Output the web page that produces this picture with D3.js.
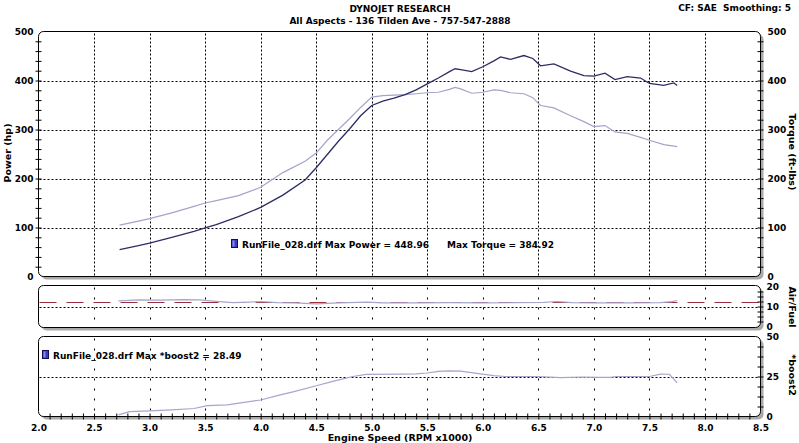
<!DOCTYPE html>
<html><head><meta charset="utf-8">
<script src="https://cdn.jsdelivr.net/npm/d3@7"></script>
<style>
html,body{margin:0;padding:0;background:#fff;}
svg{display:block;font-family:"DejaVu Sans",Verdana,sans-serif;font-weight:bold;}
</style></head>
<body><svg id="c" width="799" height="443"></svg>
<script>
// ---------- data ----------
const rpm    = [2.73,2.9,3.0,3.2,3.4,3.5,3.6,3.8,4.0,4.2,4.4,4.5,4.6,4.7,4.8,4.9,5.0,5.1,5.2,5.3,5.4,5.5,5.6,5.7,5.75,5.8,5.9,6.0,6.1,6.16,6.25,6.37,6.45,6.52,6.64,6.79,6.91,7.0,7.1,7.19,7.3,7.42,7.5,7.63,7.72,7.75];
const power  = [55,63,68,80,92,99,106,122,141,166,197,222,249,276,301,328,349,358,364,371,381,393,405,418,424,422,418,428,440,448,443,451,445,430,434,419,410,409,415,402,408,405,394,390,395,390];
const torque = [105,113,118,130,143,150,155,165,182,212,235,252,278,300,322,345,366,369,370,371,373,375,376,382,386,383,374,376,381,380,375,373,365,349,344,328,316,306,308,295,292,284,278,269,266,265];

const afRpm  = [2.72,2.9,3.1,3.3,3.45,3.6,3.75,3.9,4.0,4.15,4.3,4.5,4.7,4.96,5.1,5.4,5.7,6.0,6.3,6.55,6.67,6.8,7.0,7.3,7.6,7.7,7.75];
const afr    = [12.8,13.3,13.2,13.4,13.3,12.6,11.9,12.2,12.5,11.9,11.8,11.3,11.8,12.2,11.8,11.8,11.9,11.8,11.9,12.1,12.5,11.9,11.8,11.8,11.9,12.4,13.0];
const afTarget = 12;

const boostRpm = [2.72,2.82,3.0,3.2,3.4,3.52,3.7,3.82,4.0,4.15,4.3,4.5,4.65,4.83,4.95,5.26,5.4,5.5,5.6,5.7,5.8,5.98,6.1,6.2,6.5,6.7,6.9,7.05,7.15,7.2,7.5,7.6,7.68,7.75];
const boost    = [1.0,3.0,3.5,4.2,5.0,6.8,7.3,8.5,10.3,13,15.5,19.2,22,25,26.3,26.5,26.6,27.2,28.2,28.5,28.3,26.7,25.6,25.0,25.0,24.3,24.7,24.4,24.5,25.0,25.0,26.5,26.4,21];

const xTicks = [2.0,2.5,3.0,3.5,4.0,4.5,5.0,5.5,6.0,6.5,7.0,7.5,8.0,8.5];
const mainTicks = [0,100,200,300,400,500];
const afTicks = [0,10,20];
const boostTicks = [0,25,50];

const title = "DYNOJET RESEARCH";
const subtitle = "All Aspects - 136 Tilden Ave - 757-547-2888";
const cfText = "CF: SAE\u00a0\u00a0Smoothing: 5";
const legendMain = "RunFile_028.drf Max Power = 448.96";
const legendTorque = "Max Torque = 384.92";
const legendBoost = "RunFile_028.drf Max *boost2 = 28.49";

// ---------- scales ----------
const svg = d3.select("#c");
const x = d3.scaleLinear().domain([2,8.5]).range([38.5,760.5]);
const yMain = d3.scaleLinear().domain([0,500]).range([276.5,31.5]);
const yAF = d3.scaleLinear().domain([0,20]).range([326.5,286.5]);
const yB = d3.scaleLinear().domain([0,50]).range([416.5,336.5]);

const panels = [
  {y:yMain, top:31.5, bot:276.5, vdash:"2,2"},
  {y:yAF, top:285.5, bot:327.5, vdash:"2,8"},
  {y:yB, top:336.5, bot:416.5, vdash:"2,8"}
];
const L = x(2), R = x(8.5);

// shadows + boxes
panels.forEach(p=>{
  svg.append("rect").attr("x",L+3).attr("y",p.top+3).attr("width",R-L).attr("height",p.bot-p.top)
    .attr("rx",5).attr("fill","#a9a9a9");
  svg.append("rect").attr("x",L).attr("y",p.top).attr("width",R-L).attr("height",p.bot-p.top)
    .attr("rx",5).attr("fill","#fff");
});

// vertical grid
panels.forEach(p=>{
  svg.append("g").selectAll("line").data(xTicks.slice(1,-1)).join("line")
    .attr("x1",d=>Math.round(x(d))+0.5).attr("x2",d=>Math.round(x(d))+0.5)
    .attr("y1",p.top+2).attr("y2",p.bot-1)
    .attr("stroke","#000").attr("stroke-width",1).attr("stroke-dasharray",p.vdash);
});
// horizontal grid
function hgrid(scale, vals){
  svg.append("g").selectAll("line").data(vals).join("line")
    .attr("x1",L+1).attr("x2",R-1)
    .attr("y1",d=>Math.round(scale(d))+0.5).attr("y2",d=>Math.round(scale(d))+0.5)
    .attr("stroke","#000").attr("stroke-width",1).attr("stroke-dasharray","2,2");
}
hgrid(yMain,[100,200,300,400]);
hgrid(yAF,[10]);
hgrid(yB,[25]);

// A/F target line
svg.append("line").attr("x1",L+1).attr("x2",R-1)
  .attr("y1",yAF(afTarget)).attr("y2",yAF(afTarget))
  .attr("stroke","#9b2f42").attr("stroke-width",1.2).attr("stroke-dasharray","17,10");

// data lines
const lineMainP = d3.line().x((d,i)=>x(rpm[i])).y(d=>yMain(d));
svg.append("path").datum(torque).attr("d",lineMainP).attr("fill","none").attr("stroke","#a4a4c8").attr("stroke-width",1.2);
svg.append("path").datum(power).attr("d",lineMainP).attr("fill","none").attr("stroke","#2c2c64").attr("stroke-width",1.3);
svg.append("path").datum(afr).attr("d",d3.line().x((d,i)=>x(afRpm[i])).y(d=>yAF(d)))
  .attr("fill","none").attr("stroke","#a6a6cc").attr("stroke-width",1.2);
svg.append("path").datum(boost).attr("d",d3.line().x((d,i)=>x(boostRpm[i])).y(d=>yB(d)))
  .attr("fill","none").attr("stroke","#a6a6cc").attr("stroke-width",1.2);

// box outlines on top
panels.forEach(p=>{
  svg.append("rect").attr("x",L).attr("y",p.top).attr("width",R-L).attr("height",p.bot-p.top)
    .attr("rx",5).attr("fill","none").attr("stroke","#000").attr("stroke-width",1);
});

// cross ticks
function crossAxis(axisGen, tx, ty){
  const g = svg.append("g").attr("transform",`translate(${tx},${ty})`).call(axisGen);
  g.select(".domain").remove();
  g.selectAll("text").remove();
  return g;
}
function vTicks(scale, tx, step, lo, hi){
  const g = crossAxis(d3.axisLeft(scale).tickValues(d3.range(lo+step, hi, step)).tickSize(3), tx, 0);
  g.selectAll(".tick line").attr("x1",-3).attr("x2",3).attr("stroke","#000");
}
vTicks(yMain, L, 20, 0, 500);
vTicks(yMain, R, 20, 0, 500);
vTicks(yAF, R, 2.5, 0, 20);
vTicks(yB, R, 6.25, 0, 50);
{
  const g = crossAxis(d3.axisBottom(x).tickValues(d3.range(21,85).map(v=>v/10)).tickSize(3), 0, 416.5);
  g.selectAll(".tick line").attr("y1",-3).attr("y2",3).attr("stroke","#000");
}

// tick labels via axes
const fs = "9px";
function labelAxis(axisGen, tx, ty, anchor){
  const g = svg.append("g").attr("transform",`translate(${tx},${ty})`).call(axisGen);
  g.select(".domain").remove();
  g.selectAll(".tick line").remove();
  g.selectAll("text").attr("font-family","DejaVu Sans").attr("font-weight","bold").attr("font-size",fs).attr("fill","#000");
  return g;
}
labelAxis(d3.axisLeft(yMain).tickValues(mainTicks).tickSize(0).tickPadding(5).tickFormat(d3.format("d")), L, 0);
labelAxis(d3.axisRight(yMain).tickValues(mainTicks).tickSize(0).tickPadding(7).tickFormat(d3.format("d")), R, 0);
labelAxis(d3.axisRight(yAF).tickValues(afTicks).tickSize(0).tickPadding(6).tickFormat(d3.format("d")), R, 0);
labelAxis(d3.axisRight(yB).tickValues(boostTicks).tickSize(0).tickPadding(6).tickFormat(d3.format("d")), R, 0);
labelAxis(d3.axisBottom(x).tickValues(xTicks).tickSize(0).tickPadding(8).tickFormat(d3.format(".1f")), 0, 416.5);

// texts
function txt(s, tx, ty, size, anchor, rot){
  const t = svg.append("text").attr("x",tx).attr("y",ty).attr("font-size",size)
    .attr("text-anchor",anchor||"start").attr("fill","#000").text(s);
  if(rot) t.attr("transform",`rotate(${rot},${tx},${ty})`);
  return t;
}
txt(title, 400, 12, "9px", "middle");
txt(subtitle, 400, 24, "9px", "middle");
txt(cfText, 791, 11, "9px", "end");
txt("Engine Speed (RPM x1000)", 400, 441, "9.5px", "middle");
txt("Power (hp)", 11, 153, "9.5px", "middle", -90);
txt("Torque (ft-lbs)", 789, 152, "9.5px", "middle", 90);
txt("Air/Fuel", 789, 307, "9.5px", "middle", 90);
txt("*boost2", 789, 375, "9.5px", "middle", 90);

// legends
function icon(ix, iy){
  svg.append("rect").attr("x",ix).attr("y",iy).attr("width",6).attr("height",8)
    .attr("fill","#3c3cc0").attr("stroke","#10105a").attr("stroke-width",1);
  svg.append("rect").attr("x",ix+1).attr("y",iy+1).attr("width",2).attr("height",6).attr("fill","#8888e8");
}
icon(231.5, 239.5);
txt(legendMain, 242, 248, "9px", "start");
txt(legendTorque, 447, 248, "9px", "start");
icon(42.5, 350.5);
txt(legendBoost, 53, 359, "9px", "start");
</script></body></html>
